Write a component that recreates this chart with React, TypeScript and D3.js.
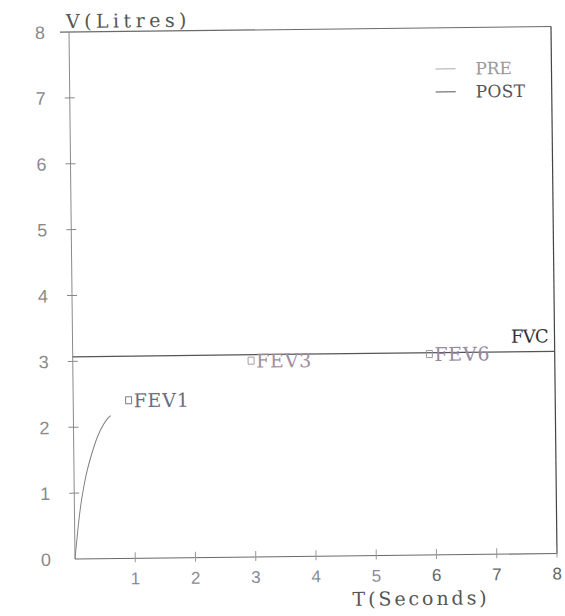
import React from "react";
import * as d3 from "d3";

// ---- data ----
const xTicks = [1, 2, 3, 4, 5, 6, 7, 8];
const yTicks = [0, 1, 2, 3, 4, 5, 6, 7, 8];

// PRE expiration curve (T seconds, V litres)
const preT = [0, 0.05, 0.1, 0.15, 0.2, 0.3, 0.4, 0.5, 0.57, 0.62];
const preV = [0, 0.42, 0.78, 1.05, 1.27, 1.6, 1.86, 2.04, 2.13, 2.17];

// POST / FVC plateau line
const postT = [0, 8];
const postV = [3.07, 3.07];

// markers
const markerNames = ["FEV1", "FEV3", "FEV6"];
const markerT = [0.92, 2.96, 5.92];
const markerV = [2.4, 2.98, 3.05];

const legendLabels = ["PRE", "POST"];

const W = 565;
const H = 616;
const CH = 13.7; // courier-like character advance

export default function App() {
  const x = d3.scaleLinear().domain([0, 8]).range([75, 557]);
  const y = d3.scaleLinear().domain([0, 8]).range([559, 32]);

  const line = d3
    .line<[number, number]>()
    .x((d) => x(d[0]))
    .y((d) => y(d[1]))
    .curve(d3.curveMonotoneX);

  const prePts: [number, number][] = preT.map((t, i) => [t, preV[i]]);
  const postPts: [number, number][] = postT.map((t, i) => [t, postV[i]]);

  const serif = "'DejaVu Serif', 'Liberation Serif', serif";
  const sans = "'Liberation Sans', Arial, sans-serif";

  const markerColors = ["#6a6d82", "#a090a0", "#958aa0"];

  const Mono = (p: {
    x: number;
    y: number;
    s: string;
    size?: number;
    fill: string;
    anchor?: string;
    ch?: number;
  }) => {
    const ch = p.ch ?? CH;
    const len = p.s.length * ch;
    const x0 = p.anchor === "end" ? p.x - len : p.x;
    return (
      <text
        x={x0}
        y={p.y}
        fontFamily={serif}
        fontSize={p.size ?? 19}
        fill={p.fill}
        textLength={len - ch * 0.2}
        lengthAdjust="spacing"
      >
        {p.s}
      </text>
    );
  };

  return (
    <svg
      width={W}
      height={H}
      style={{ position: "absolute", left: 0, top: 0, background: "#fff" }}
    >
      <rect x={0} y={0} width={W} height={H} fill="#fff" />
      <g transform={`rotate(-0.65, ${x(0)}, ${y(0)})`}>
        {/* frame: top and right */}
        <line x1={66} x2={x(8)} y1={y(8)} y2={y(8)} stroke="#6a6a6a" strokeWidth={1.1} />
        <line x1={x(8)} x2={x(8)} y1={y(8)} y2={y(0)} stroke="#444" strokeWidth={1.2} />
        {/* axes */}
        <line x1={x(0)} x2={x(0)} y1={y(8)} y2={y(0)} stroke="#8a8a8a" strokeWidth={1} />
        <line x1={x(0)} x2={x(8)} y1={y(0)} y2={y(0)} stroke="#6a6a6a" strokeWidth={1.1} />

        {/* y ticks */}
        {yTicks.map((t) => (
          <g key={"y" + t}>
            {t > 0 && t < 8 && (
              <line x1={x(0) - 5} x2={x(0) + 5} y1={y(t)} y2={y(t)} stroke="#888" strokeWidth={1} />
            )}
            <text
              x={46}
              y={y(t) + 6.5}
              textAnchor="middle"
              fontFamily={sans}
              fontSize={18}
              fill="#8a8a8a"
            >
              {t}
            </text>
          </g>
        ))}

        {/* x ticks */}
        {xTicks.map((t) => (
          <g key={"x" + t}>
            <line x1={x(t)} x2={x(t)} y1={y(0) - 6} y2={y(0) + 4} stroke="#999" strokeWidth={1} />
            <text
              x={x(t)}
              y={585}
              textAnchor="middle"
              fontFamily={sans}
              fontSize={17}
              fill={t >= 6 ? "#666" : "#8a8a98"}
            >
              {t}
            </text>
          </g>
        ))}

        {/* axis titles */}
        <Mono x={72} y={28} s="V(Litres)" fill="#555" />
        <Mono x={352} y={609} s="T(Seconds)" fill="#555" />

        {/* series */}
        <path d={line(postPts) || ""} fill="none" stroke="#555" strokeWidth={1.2} />
        <path d={line(prePts) || ""} fill="none" stroke="#808080" strokeWidth={1} />

        {/* markers */}
        {markerNames.map((n, i) => (
          <g key={n}>
            <rect
              x={x(markerT[i]) - 3}
              y={y(markerV[i]) - 3.5}
              width={6}
              height={7}
              fill="none"
              stroke={markerColors[i]}
              strokeWidth={0.9}
            />
            <Mono x={x(markerT[i]) + 5} y={y(markerV[i]) + 7} s={n} fill={markerColors[i]} ch={14.5} />
          </g>
        ))}

        {/* FVC label */}
        <Mono x={x(8) - 3} y={y(postV[0]) - 9} s="FVC" anchor="end" fill="#333" ch={13.5} size={18} />

        {/* legend */}
        {legendLabels.map((l, i) => (
          <g key={l}>
            <line
              x1={441}
              x2={461}
              y1={73 + i * 23}
              y2={73 + i * 23}
              stroke={i === 0 ? "#aaa" : "#555"}
              strokeWidth={1}
            />
            <Mono x={481} y={79 + i * 23} s={l} size={17} ch={13} fill={i === 0 ? "#999" : "#555"} />
          </g>
        ))}
      </g>
    </svg>
  );
}
